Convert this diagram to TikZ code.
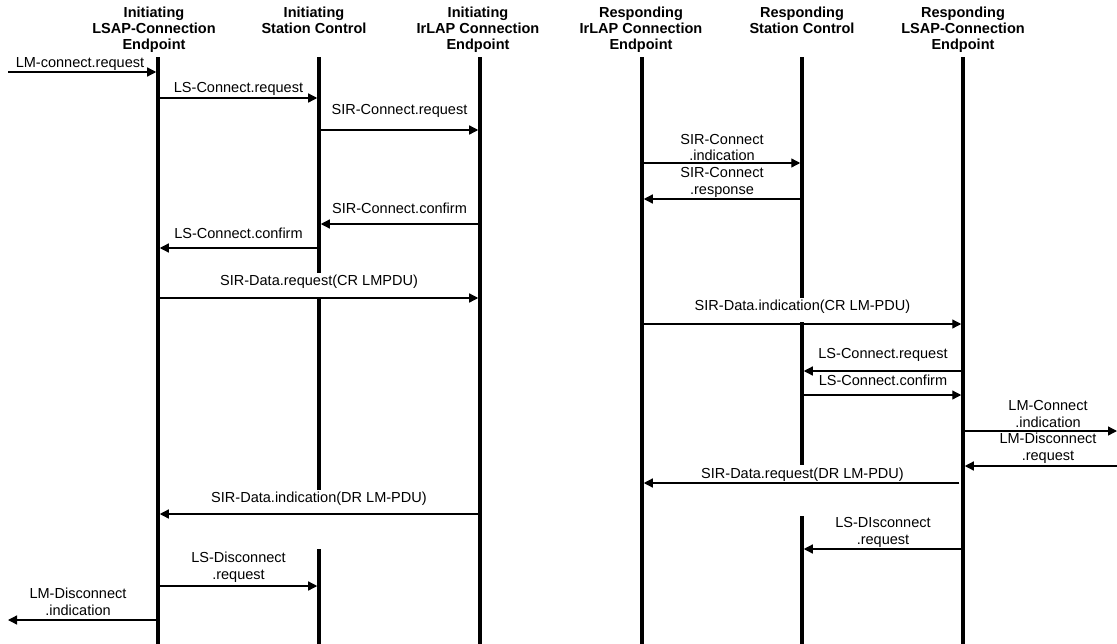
\documentclass[tikz,border=0pt]{standalone}
\usepackage{fontspec}
\setmainfont{Liberation Sans}
\usetikzlibrary{arrows.meta}

\begin{document}
\begin{tikzpicture}[
    x=0.03cm, y=-0.03cm,
    header/.style={align=center, inner sep=0pt, font=\fontsize{12.4}{13.66}\selectfont\bfseries},
    lbl/.style={align=center, inner sep=0pt, font=\fontsize{12.4}{14.5}\selectfont},
    life/.style={line width=3pt},
    msg/.style={-{Triangle[length=0.27cm, width=0.27cm]}, line width=1.1pt, shorten <=1.5pt, shorten >=1.5pt}
  ]
    \useasboundingbox (0,0) rectangle (1117,644);

    % headers
    \node[header] (hdrLsapI) at (154,30) {Initiating\\LSAP-Connection\\Endpoint};
    \node[header, anchor=north] (hdrScI) at (hdrLsapI.north -| 314,0) {Initiating\\Station Control};
    \node[header] (hdrLapI) at (478,30) {Initiating\\IrLAP Connection\\Endpoint};
    \node[header] (hdrLapR) at (641,30) {Responding\\IrLAP Connection\\Endpoint};
    \node[header, anchor=north] (hdrScR) at (hdrLapR.north -| 802,0) {Responding\\Station Control};
    \node[header] (hdrLsapR) at (963,30) {Responding\\LSAP-Connection\\Endpoint};

    % lifelines
    \coordinate (lsapI) at (158,57);
    \coordinate (scI) at (319,57);
    \coordinate (lapI) at (480,57);
    \coordinate (lapR) at (642,57);
    \coordinate (scR) at (802,57);
    \coordinate (lsapR) at (963,57);
    \coordinate (leftEnd) at (8,0);
    \coordinate (rightEnd) at (1117,0);

    \draw[life] (lsapI) -- (lsapI |- 0,644);
    \draw[life] (scI) -- (scI |- 0,273) (scI |- 0,298) -- (scI |- 0,490) (scI |- 0,549) -- (scI |- 0,644);
    \draw[life] (lapI) -- (lapI |- 0,644);
    \draw[life] (lapR) -- (lapR |- 0,644);
    \draw[life] (scR) -- (scR |- 0,298) (scR |- 0,322) -- (scR |- 0,465) (scR |- 0,516) -- (scR |- 0,644);
    \draw[life] (lsapR) -- (lsapR |- 0,644);

    % connection set-up
    \node[lbl] (t1) at (80,64) {LM-connect.request};
    \draw[msg, shorten <=0pt] (leftEnd |- 0,72) -- (lsapI |- 0,72);
    \node[lbl] (t2) at (238.5,89) {LS-Connect.request};
    \draw[msg] (lsapI |- 0,98) -- (scI |- 0,98);
    \node[lbl] (t3) at (399.5,111) {SIR-Connect.request};
    \draw[msg] (scI |- 0,130) -- (lapI |- 0,130);
    \node[lbl] (t4) at (722,147.5) {SIR-Connect\\.indication};
    \draw[msg] (lapR |- 0,163) -- (scR |- 0,163);
    \node[lbl] (t5) at (722,182) {SIR-Connect\\.response};
    \draw[msg] (scR |- 0,199) -- (lapR |- 0,199);
    \node[lbl] (t6) at (399.5,208) {SIR-Connect.confirm};
    \draw[msg] (lapI |- 0,224) -- (scI |- 0,224);
    \node[lbl] (t7) at (238.5,233) {LS-Connect.confirm};
    \draw[msg] (scI |- 0,248) -- (lsapI |- 0,248);

    % data exchange
    \node[lbl] (t8) at (319,282) {SIR-Data.request(CR LMPDU)};
    \draw[msg] (lsapI |- 0,298) -- (lapI |- 0,298);
    \node[lbl] (t9) at (802.5,307) {SIR-Data.indication(CR LM-PDU)};
    \draw[msg] (lapR |- 0,324) -- (lsapR |- 0,324);
    \node[lbl] (t10) at (883,355) {LS-Connect.request};
    \draw[msg] (lsapR |- 0,371) -- (scR |- 0,371);
    \node[lbl] (t11) at (883,380) {LS-Connect.confirm};
    \draw[msg] (scR |- 0,395) -- (lsapR |- 0,395);
    \node[lbl] (t12) at (1048,413.5) {LM-Connect\\.indication};
    \draw[msg, shorten >=0pt] (lsapR |- 0,431) -- (rightEnd |- 0,431);
    \node[lbl] (t13) at (1048,448) {LM-Disconnect\\.request};
    \draw[msg, shorten <=0pt] (rightEnd |- 0,466) -- (lsapR |- 0,466);
    \node[lbl] (t14) at (802.5,475) {SIR-Data.request(DR LM-PDU)};
    \draw[msg, shorten <=3pt] (lsapR |- 0,483) -- (lapR |- 0,483);
    \node[lbl] (t15) at (319,499) {SIR-Data.indication(DR LM-PDU)};
    \draw[msg] (lapI |- 0,514) -- (lsapI |- 0,514);

    % disconnect
    \node[lbl] (t16) at (883,532.5) {LS-DIsconnect\\.request};
    \draw[msg] (lsapR |- 0,549) -- (scR |- 0,549);
    \node[lbl] (t17) at (238.5,567) {LS-Disconnect\\.request};
    \draw[msg] (lsapI |- 0,586) -- (scI |- 0,586);
    \node[lbl] (t18) at (78,602) {LM-Disconnect\\.indication};
    \draw[msg, shorten >=0pt] (lsapI |- 0,620) -- (leftEnd |- 0,620);
  \end{tikzpicture}
\end{document}
